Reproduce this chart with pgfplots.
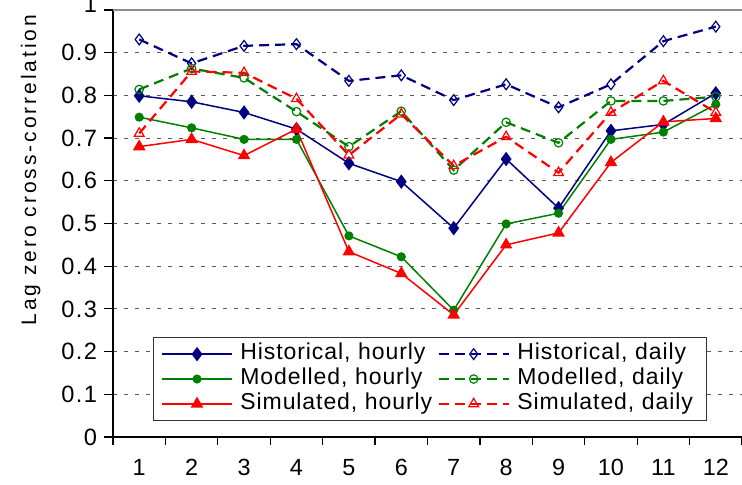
\documentclass[border=0pt]{standalone}
\usepackage{fontspec}
\setmainfont{Liberation Sans}
\newfontfamily\ylabfont[LetterSpace=14]{Liberation Sans}
\newfontfamily\legfont[LetterSpace=4]{Liberation Sans}
\newfontfamily\ytfont[LetterSpace=6]{Liberation Sans}
\usepackage{pgfplots}
\pgfplotsset{compat=1.18}
\definecolor{hblue}{RGB}{0,0,128}
\definecolor{mgreen}{RGB}{0,128,0}
\definecolor{sred}{RGB}{255,0,0}
\begin{document}
\begin{tikzpicture}
\begin{axis}[
  name=ax,
  scale only axis, width=314.5pt, height=213.5pt,
  xmin=0.5, xmax=12.5, ymin=0, ymax=1,
  axis x line*=bottom, axis y line*=left,
  axis line style={black, line width=0.7pt},
  tick align=outside,
  xtick={1,...,12},
  xticklabels={1,2,3,4,5,6,7,8,9,10,11,12},
  major x tick style={draw=none},
  minor xtick={0.5,1.5,...,12.5},
  minor tick length=4pt,
  minor x tick style={black, line width=0.6pt},
  ytick={0,0.1,0.2,0.3,0.4,0.5,0.6,0.7,0.8,0.9},
  yticklabels={0,0.1,0.2,0.3,0.4,0.5,0.6,0.7,0.8,0.9},
  extra y ticks={1},
  extra y tick labels={1},
  extra y tick style={yticklabel style={yshift=3pt}},
  major tick length=4.5pt,
  major y tick style={black, line width=0.6pt},
  ymajorgrids,
  y grid style={black!65, line width=0.5pt, dash pattern=on 2.2pt off 3.3pt},
  xticklabel style={font=\fontsize{11.7}{13}\selectfont, yshift=-3pt},
  yticklabel style={font=\ytfont\fontsize{11.8}{13}\selectfont},
  ylabel={Lag zero cross-correlation},
  ylabel style={at={(rel axis cs:-0.131,0.625)}, anchor=center, font=\ylabfont\fontsize{10.5}{12}\selectfont},
  legend columns=2,
  legend cell align=left,
  legend style={at={(rel axis cs:0.0631,0.2335)}, anchor=north west, draw=black!80, line width=0.6pt, fill=white,
     inner xsep=4pt, inner ysep=1.9pt, column sep=3.8pt, row sep=0pt,
     nodes={inner sep=0pt, text height=8.9pt, text depth=3.55pt, font=\legfont\fontsize{11.5}{12}\selectfont},
     /tikz/column 2/.style={text width=94.8pt},
     /tikz/column 4/.style={text width=90.5pt}},
  legend image code/.code={\draw[mark repeat=2,mark phase=2,#1] plot coordinates {(0pt,0pt)(17.5pt,0pt)(35pt,0pt)};},
  clip=false,
]
\draw[black!45, line width=0.8pt] (rel axis cs:0,1) -- (rel axis cs:1,1);

\addplot[hblue, line width=0.75pt, mark=diamond*, mark size=3pt, mark options={solid, fill=hblue}] coordinates {
(1,0.799) (2,0.785) (3,0.760) (4,0.721) (5,0.641) (6,0.598) (7,0.489) (8,0.651) (9,0.536) (10,0.717) (11,0.732) (12,0.805)};
\addlegendentry{\mbox{Historical, hourly}}
\addplot[hblue, line width=1.1pt, dash pattern=on 5pt off 3pt, mark=diamond, mark size=2.7pt, mark options={solid, fill=white, line width=0.6pt}] coordinates {
(1,0.931) (2,0.875) (3,0.916) (4,0.920) (5,0.834) (6,0.847) (7,0.789) (8,0.826) (9,0.772) (10,0.826) (11,0.927) (12,0.961)};
\addlegendentry{\mbox{Historical, daily}}
\addplot[mgreen, line width=0.75pt, mark=*, mark size=1.9pt, mark options={solid, fill=mgreen}] coordinates {
(1,0.749) (2,0.724) (3,0.697) (4,0.697) (5,0.471) (6,0.422) (7,0.297) (8,0.499) (9,0.524) (10,0.697) (11,0.714) (12,0.779)};
\addlegendentry{\mbox{Modelled, hourly}}
\addplot[mgreen, line width=1.1pt, dash pattern=on 5pt off 3pt, mark=o, mark size=2.1pt, mark options={solid, fill=white, line width=0.6pt}] coordinates {
(1,0.814) (2,0.863) (3,0.841) (4,0.762) (5,0.680) (6,0.763) (7,0.625) (8,0.737) (9,0.689) (10,0.787) (11,0.787) (12,0.797)};
\addlegendentry{\mbox{Modelled, daily}}
\addplot[sred, line width=0.75pt, mark=triangle*, mark size=2.9pt, mark options={solid, fill=sred}] coordinates {
(1,0.680) (2,0.697) (3,0.659) (4,0.721) (5,0.434) (6,0.383) (7,0.286) (8,0.450) (9,0.478) (10,0.643) (11,0.738) (12,0.746)};
\addlegendentry{\mbox{Simulated, hourly}}
\addplot[sred, line width=1.1pt, dash pattern=on 5pt off 3pt, mark=triangle, mark size=2.8pt, mark options={solid, fill=white, line width=0.6pt}] coordinates {
(1,0.711) (2,0.856) (3,0.853) (4,0.792) (5,0.660) (6,0.756) (7,0.635) (8,0.703) (9,0.619) (10,0.760) (11,0.834) (12,0.760)};
\addlegendentry{\mbox{Simulated, daily}}
\end{axis}
\pgfresetboundingbox
\path[use as bounding box] ([shift={(-56.5pt,-24pt)}]ax.south west) rectangle ([shift={(0pt,5pt)}]ax.north east);
\end{tikzpicture}
\end{document}
